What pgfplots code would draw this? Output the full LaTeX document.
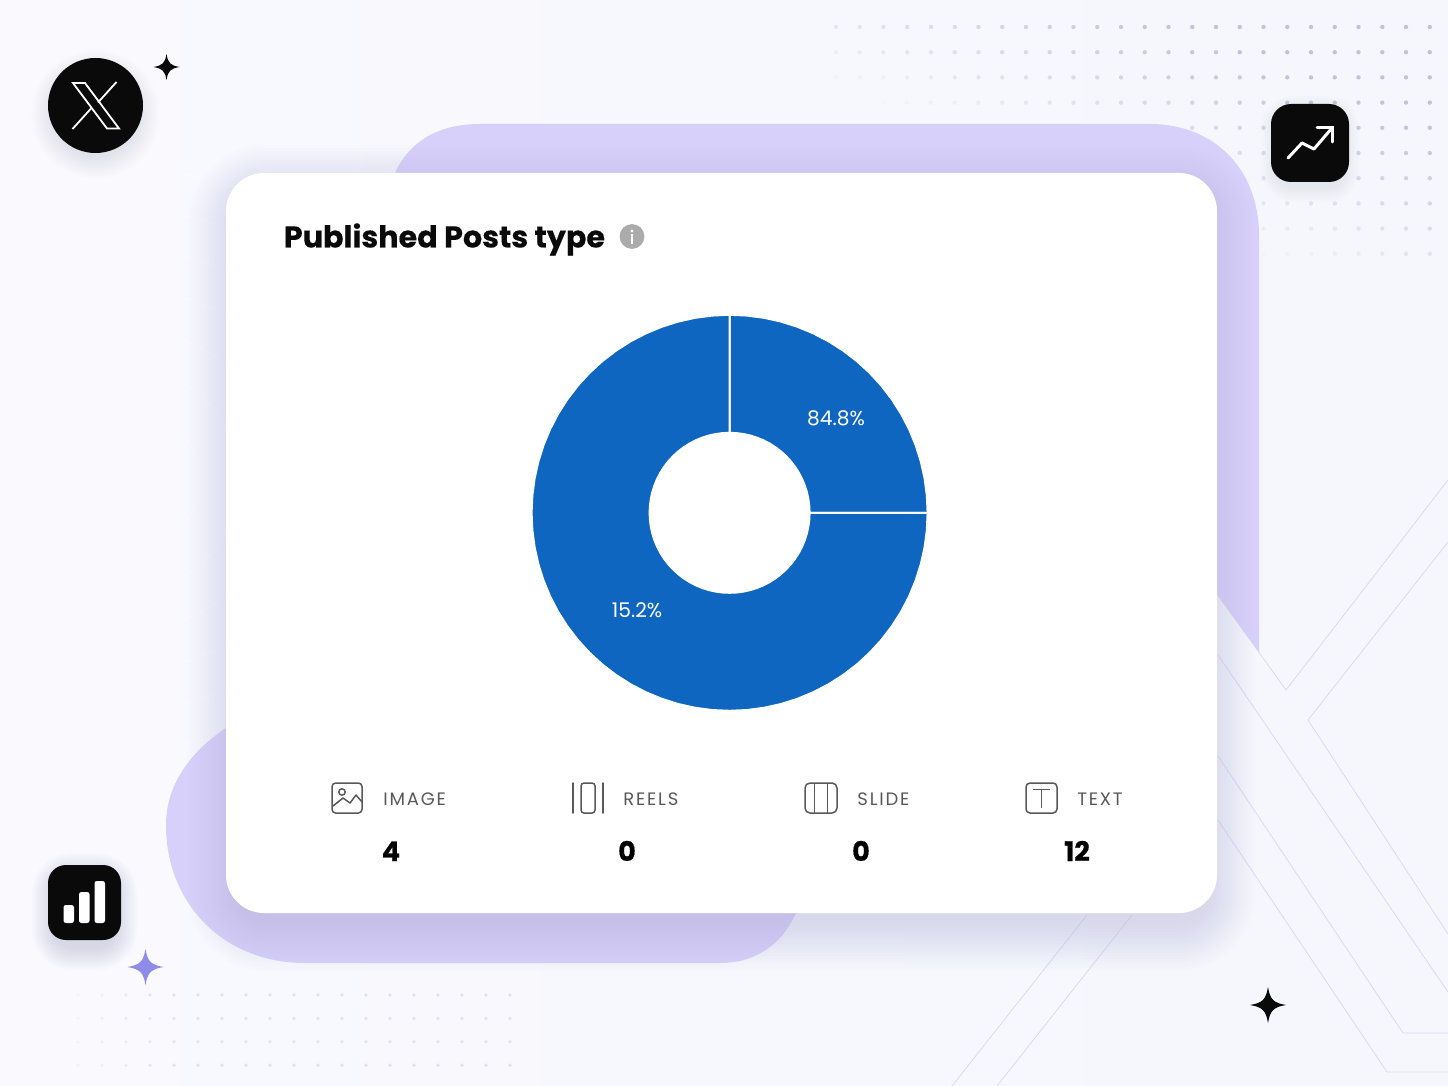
\documentclass[border=0pt]{standalone}
\usepackage{fontspec}
\usepackage{pgfplots}
\pgfplotsset{compat=1.18}
\setmainfont{Poppins}
\newfontfamily\labf[LetterSpace=10]{Poppins}
\newfontfamily\numf[BoldFeatures={FakeBold=0.6}]{Poppins}
\newfontfamily\titf[BoldFeatures={FakeBold=0.25}]{Poppins}
\definecolor{bgl}{HTML}{F9F9FE}
\definecolor{bgr}{HTML}{F5F7FC}
\definecolor{blobc}{HTML}{D6D0FB}
\definecolor{shadowc}{HTML}{5F5D9E}
\definecolor{linec}{HTML}{D9D9F3}
\definecolor{dotc}{HTML}{B9B9D6}
\definecolor{donut}{HTML}{0E66C0}
\definecolor{ink}{HTML}{0A0A0A}
\definecolor{labc}{HTML}{595959}
\definecolor{starc}{HTML}{8F8BE8}
% x1 y1 x2 y2 opacity spread step radius
\newcommand\softshadow[8]{%
  \foreach \i in {0,#7,...,#6}{%
    \fill[shadowc,opacity=#5,rounded corners={(#8+\i)*0.5pt}] ({#1-\i},{#2-\i}) rectangle ({#3+\i},{#4+\i});}}
\newcommand\softdisc[5]{%
  \foreach \i in {0,2,...,#4}{\fill[shadowc,opacity=#5] (#1,#2) circle ({(#3+\i)*0.5pt});}}
\newcommand\sparkle[4]{% x y r colour
  \fill[#4] (#1,{#2-#3}) .. controls ({#1+0.12*#3},{#2-0.3*#3}) and ({#1+0.3*#3},{#2-0.12*#3}) .. ({#1+#3},#2)
   .. controls ({#1+0.3*#3},{#2+0.12*#3}) and ({#1+0.12*#3},{#2+0.3*#3}) .. (#1,{#2+#3})
   .. controls ({#1-0.12*#3},{#2+0.3*#3}) and ({#1-0.3*#3},{#2+0.12*#3}) .. ({#1-#3},#2)
   .. controls ({#1-0.3*#3},{#2-0.12*#3}) and ({#1-0.12*#3},{#2-0.3*#3}) .. (#1,{#2-#3}) -- cycle;}
\begin{document}
\begin{tikzpicture}[x=0.5pt,y=-0.5pt]
\useasboundingbox (0,0) rectangle (1448,1086);
\clip (0,0) rectangle (1448,1086);
\shade[left color=bgl,right color=bgr] (0,0) rectangle (1448,1086);
% faint rings, left
\foreach \r in {70,110,150,190,230,270,310}{\draw[white,line width=0.6pt,opacity=0.4] (130,480) circle ({\r*0.5pt});}
% dots top right
\foreach \cx in {0,...,25}{\foreach \cy in {0,...,9}{%
  \pgfmathsetmacro\px{836+\cx*23.75}\pgfmathsetmacro\py{27+\cy*25.2}%
  \pgfmathsetmacro\op{max(0,min(0.85,(\px-830)/600+(270-\py)/240-0.75))}%
  \fill[dotc,opacity=\op] (\px,\py) circle (1.1pt);}}
% dots bottom left
\foreach \cx in {0,...,19}{\foreach \cy in {0,...,3}{%
  \pgfmathsetmacro\px{54+\cx*24}\pgfmathsetmacro\py{995+\cy*23.4}%
  \pgfmathsetmacro\op{max(0,min(0.35,(\px-50)/350))}%
  \fill[dotc,opacity=\op] (\px,\py) circle (0.9pt);}}
% X lines
\draw[linec,line width=0.4pt] (1448,480) -- (1286,690) -- (1217,594);
\draw[linec,line width=0.4pt] (1448,542) -- (1308,720) -- (1448,934);
\draw[linec,line width=0.4pt] (1218,655) -- (1448,992);
\draw[linec,line width=0.4pt] (1218,756) -- (1403,1033) -- (1448,1033);
\draw[linec,line width=0.4pt] (1218,820) -- (1387,1072) -- (1448,1072);
\draw[linec,line width=0.4pt] (1087,915) -- (952,1086);
\draw[linec,line width=0.4pt] (1132,915) -- (997,1086);
% blobs
\fill[blobc] (395,173) .. controls (410,140) and (440,124) .. (480,124) -- (1150,124)
  .. controls (1215,124) and (1259,170) .. (1259,235) -- (1259,652) -- (1217,594) -- (1190,594) -- (1190,200) -- (395,200) -- cycle;
\fill[blobc] (226,728) .. controls (190,752) and (166,785) .. (166,825)
  .. controls (166,905) and (225,963) .. (305,963) -- (720,963)
  .. controls (755,963) and (782,945) .. (796,913) -- (796,880) -- (260,880) -- (260,728) -- cycle;
% card shadow
\softshadow{236}{193}{1207}{923}{0.007}{50}{3}{30}
\fill[white,rounded corners=19pt] (226,173) rectangle (1217,913);
% X badge
\softdisc{95.5}{114}{44}{20}{0.012}
\fill[ink] (95.5,105.5) circle (23.75pt);
\draw[white,line width=0.9pt,line join=miter] (73,83) -- (85,83) -- (119,128.5) -- (107,128.5) -- cycle;
\draw[white,line width=0.9pt] (116.5,82) -- (98,102.5);
\draw[white,line width=0.9pt] (72.5,129) -- (91,108.5);
\sparkle{166.5}{67}{13}{ink}
% arrow badge
\softshadow{1275}{110}{1345}{188}{0.012}{14}{2}{18}
\fill[ink,rounded corners=10pt] (1271,104) rectangle (1349,182);
\draw[white,line width=1.5pt,line cap=round,line join=round] (1288,158) -- (1302,143) -- (1314,149) -- (1332,128);
\draw[white,line width=1.5pt,line cap=round,line join=miter] (1317,128) -- (1332,128) -- (1332,142);
% bars badge
\softshadow{54}{875}{115}{948}{0.014}{22}{2}{18}
\fill[ink,rounded corners=9pt] (48,865) rectangle (121,940);
\fill[white,rounded corners=1.2pt] (63.5,905) rectangle (74,923);
\fill[white,rounded corners=1.2pt] (79,892) rectangle (89.5,923);
\fill[white,rounded corners=1.2pt] (94.5,881) rectangle (105,923);
\sparkle{145.5}{967}{18}{starc}
\sparkle{1268}{1005}{18}{ink}
% title
\node[anchor=base west,inner sep=0pt,text=ink] at (283.5,247.5) {\fontsize{15.1pt}{18pt}\titf\bfseries Published Posts type};
\fill[black!33] (632,236.5) circle (6.2pt);
\fill[white] (632,231) circle (0.8pt);
\fill[white] (630.8,234.5) rectangle (633.2,244);
% donut
\begin{axis}[at={(364.8pt,-256.4pt)},anchor=center,x=0.5pt,y=0.5pt,
  xmin=-200,xmax=200,ymin=-200,ymax=200,hide axis,clip=false]
% IMAGE = 4 of 16 posts (quarter of the ring)
\addplot[data cs=polar,fill=donut,draw=white,line width=1pt,mark=none] coordinates {
(90,198)(85,198)(80,198)(75,198)(70,198)(65,198)(60,198)(55,198)(50,198)(45,198)
(40,198)(35,198)(30,198)(25,198)(20,198)(15,198)(10,198)(5,198)(0,198)
(0,80)(5,80)(10,80)(15,80)(20,80)(25,80)(30,80)(35,80)(40,80)(45,80)
(50,80)(55,80)(60,80)(65,80)(70,80)(75,80)(80,80)(85,80)(90,80)(90,198)};
% TEXT = 12 of 16 posts
\addplot[data cs=polar,fill=donut,draw=white,line width=1pt,mark=none] coordinates {
(360,198)(355,198)(350,198)(345,198)(340,198)(335,198)(330,198)(325,198)(320,198)(315,198)
(310,198)(305,198)(300,198)(295,198)(290,198)(285,198)(280,198)(275,198)(270,198)
(265,198)(260,198)(255,198)(250,198)(245,198)(240,198)(235,198)(230,198)(225,198)
(220,198)(215,198)(210,198)(205,198)(200,198)(195,198)(190,198)(185,198)(180,198)
(175,198)(170,198)(165,198)(160,198)(155,198)(150,198)(145,198)(140,198)(135,198)
(130,198)(125,198)(120,198)(115,198)(110,198)(105,198)(100,198)(95,198)(90,198)
(90,80)(95,80)(100,80)(105,80)(110,80)(115,80)(120,80)(125,80)(130,80)(135,80)
(140,80)(145,80)(150,80)(155,80)(160,80)(165,80)(170,80)(175,80)(180,80)
(185,80)(190,80)(195,80)(200,80)(205,80)(210,80)(215,80)(220,80)(225,80)
(230,80)(235,80)(240,80)(245,80)(250,80)(255,80)(260,80)(265,80)(270,80)
(275,80)(280,80)(285,80)(290,80)(295,80)(300,80)(305,80)(310,80)(315,80)
(320,80)(325,80)(330,80)(335,80)(340,80)(345,80)(350,80)(355,80)(360,80)(360,198)};
\node[text=white,font=\fontsize{10.1pt}{12pt}\selectfont] at (axis cs:106.5,94.5) {84.8\%};
\node[text=white,font=\fontsize{10.1pt}{12pt}\selectfont] at (axis cs:-92.5,-97.5) {15.2\%};
\end{axis}
% legend icons
\begin{scope}[draw=labc,line width=0.75pt]
\draw[rounded corners=1.8pt] (332,783) rectangle (362,813);
\draw (342,792) circle (1.6pt);
\draw[line join=round] (333,806) -- (343,798) -- (350,803) -- (356,795) -- (362,802);
\draw[rounded corners=1.5pt] (581,783) rectangle (595,813);
\draw[line cap=round] (573,783) -- (573,813);
\draw[line cap=round] (603,783) -- (603,813);
\draw[rounded corners=2.5pt] (805,783) rectangle (837,813);
\draw (814.5,783) -- (814.5,813);
\draw (827.5,783) -- (827.5,813);
\draw[rounded corners=2pt] (1026,783) rectangle (1057,813);
\draw (1033,789.5) -- (1050,789.5);
\draw (1041.5,789.5) -- (1041.5,808);
\end{scope}
% legend text
\foreach \x/\t in {383/IMAGE,623/REELS,857/SLIDE,1077/TEXT}{
  \node[anchor=base west,inner sep=0pt,text=labc] at (\x,805) {\fontsize{9pt}{11pt}\labf \t};}
\foreach \x/\t in {391/4,627/0,861/0,1077/12}{
  \node[anchor=base,inner sep=0pt,text=black] at (\x,861) {\fontsize{13.5pt}{16pt}\numf\bfseries \t};}
\end{tikzpicture}
\end{document}
